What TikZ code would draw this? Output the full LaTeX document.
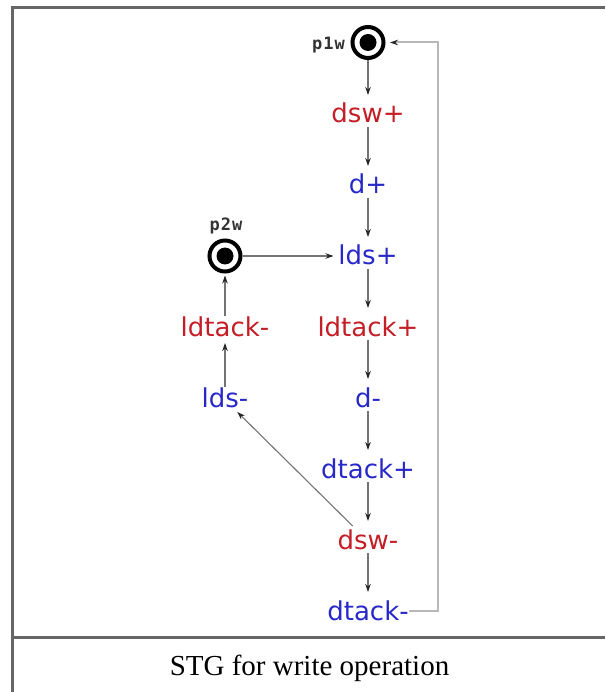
\documentclass[tikz,border=0pt]{standalone}
\usepackage{fontspec}
\setmainfont{Liberation Serif}
\setsansfont{DejaVu Sans}
\newfontfamily\lblfont[LetterSpace=6]{DejaVu Sans Mono}
\usetikzlibrary{arrows.meta}
\definecolor{stgred}{RGB}{196,30,38}
\definecolor{stgblue}{RGB}{40,40,200}
\definecolor{framegray}{RGB}{102,102,102}
\begin{document}
\begin{tikzpicture}[x=1pt,y=-1pt,
  tr/.style={inner sep=0pt, outer sep=0pt, text height=18pt, text depth=0pt,
    font=\sffamily\fontsize{26}{30}\selectfont, anchor=base},
  trred/.style={tr, text=stgred},
  trblue/.style={tr, text=stgblue},
  place/.style={circle, draw=black, line width=4pt, minimum size=31pt, inner sep=0pt,
    path picture={\fill[black] (path picture bounding box.center) circle (8.5pt);}},
  plabel/.style={inner sep=0pt, text=black!80, font=\lblfont\bfseries\fontsize{17}{18}\selectfont},
  tip/.style={-{Stealth[length=8pt,width=5.5pt,color=black!85]}},
  arr/.style={draw=black!55, line width=1.1pt, tip},
  down/.style={arr, shorten <=4pt, shorten >=10pt},
  loopline/.style={draw=black!28, line width=2pt, shorten >=4.5pt, tip},
  frame/.style={draw=framegray, line width=3pt}
]
\useasboundingbox (0,0) rectangle (605,692);
% frame
\draw[frame] (12.5,692) -- (12.5,7.5) -- (605,7.5);
\draw[frame] (12.5,637) -- (605,637);
% places
\node[place] (p1w) at (368,42.5) {};
\node[place] (p2w) at (225,256) {};
\node[plabel, anchor=base east] (p1wl) at (345,50) {p1w};
\node[plabel, anchor=base] (p2wl) at (226,231) {p2w};
% transitions
\node[trred]  (dswp)    at (368,123) {dsw+};
\node[trblue] (dp)      at (368,194) {d+};
\node[trblue] (ldsp)    at (368,265) {lds+};
\node[trred]  (ldtackp) at (368,336) {ldtack+};
\node[trblue] (dm)      at (368,407) {d-};
\node[trblue] (dtackp)  at (368,478) {dtack+};
\node[trred]  (dswm)    at (368,549) {dsw-};
\node[trblue] (dtackm)  at (368,620) {dtack-};
\node[trred]  (ldtackm) at (225,336) {ldtack-};
\node[trblue] (ldsm)    at (225,407) {lds-};
\coordinate (loopx) at (438,620);
% arcs
\draw[arr, shorten >=10pt] (p1w.south) -- (dswp.north);
\draw[down] (dswp.south) -- (dp.north);
\draw[down] (dp.south) -- (ldsp.north);
\draw[down] (ldsp.south) -- (ldtackp.north);
\draw[down] (ldtackp.south) -- (dm.north);
\draw[down] (dm.south) -- (dtackp.north);
\draw[down] (dtackp.south) -- (dswm.north);
\draw[down] (dswm.south) -- (dtackm.north);
\draw[arr, shorten >=5pt] (p2w.east) -- (ldsp.west);
\draw[arr, shorten <=2pt, shorten >=7pt] (ldsm.north) -- (ldtackm.south);
\draw[arr, shorten <=2pt, shorten >=2pt] (ldtackm.north) -- (p2w.south);
\draw[arr] ([xshift=15pt,yshift=5pt]dswm.north west) -- ([xshift=-11pt,yshift=-5pt]ldsm.south east);
\draw[loopline] (dtackm.east) -- (dtackm.east -| loopx) |- (p1w.east);
% caption
\node[anchor=base, inner sep=0pt, font=\fontsize{29}{34}\selectfont] (cap) at (309.5,675) {STG for write operation};
\end{tikzpicture}
\end{document}
